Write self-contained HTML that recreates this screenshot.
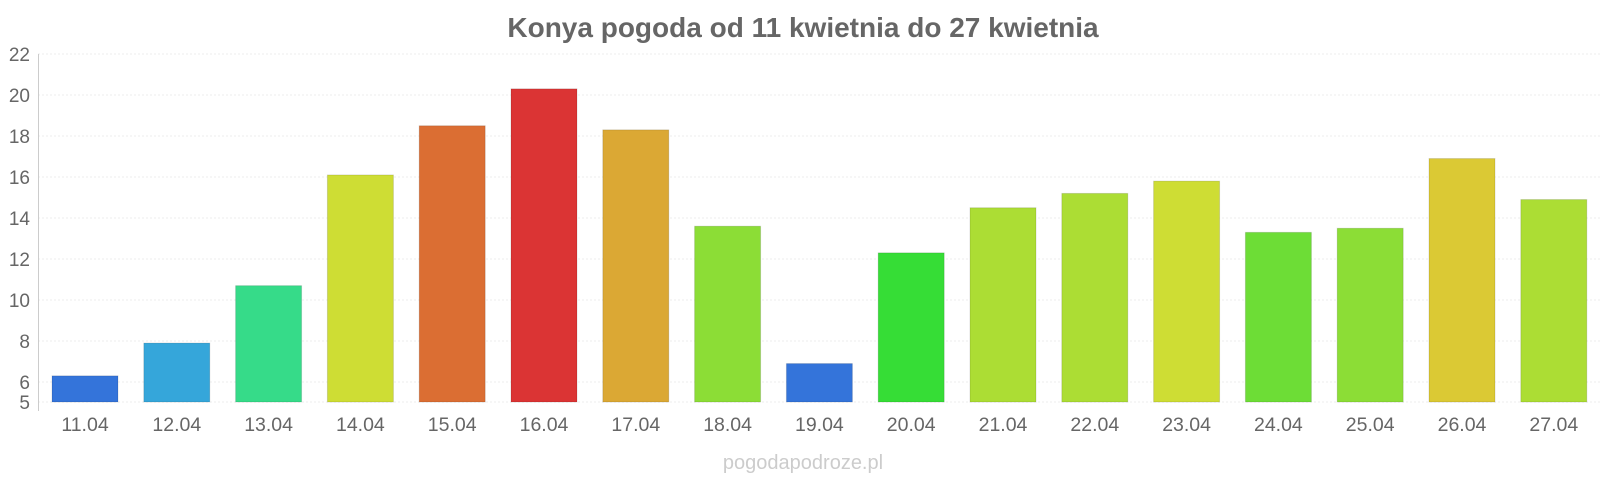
<!DOCTYPE html><html><head><meta charset="utf-8"><style>body{margin:0;background:#fff}svg{display:block}text{font-family:"Liberation Sans",sans-serif}</style></head><body>
<svg width="1600" height="480" xmlns="http://www.w3.org/2000/svg">
<text x="803" y="37" text-anchor="middle" font-size="28" font-weight="bold" fill="#666">Konya pogoda od 11 kwietnia do 27 kwietnia</text>
<g stroke="#eee" stroke-dasharray="2,2">
<line x1="38" x2="1600" y1="54" y2="54"/><line x1="38" x2="1600" y1="95" y2="95"/><line x1="38" x2="1600" y1="136" y2="136"/><line x1="38" x2="1600" y1="177" y2="177"/><line x1="38" x2="1600" y1="218" y2="218"/><line x1="38" x2="1600" y1="259" y2="259"/><line x1="38" x2="1600" y1="300" y2="300"/><line x1="38" x2="1600" y1="341" y2="341"/><line x1="38" x2="1600" y1="382" y2="382"/><line x1="38" x2="1600" y1="402" y2="402"/>
</g>
<line x1="38.5" x2="38.5" y1="54" y2="411" stroke="#ccc"/>
<g font-size="19" fill="#666" text-anchor="end">
<text x="30" y="61">22</text><text x="30" y="102">20</text><text x="30" y="143">18</text><text x="30" y="184">16</text><text x="30" y="225">14</text><text x="30" y="266">12</text><text x="30" y="307">10</text><text x="30" y="348">8</text><text x="30" y="389">6</text><text x="30" y="409">5</text>
</g>
<g stroke="rgba(0,0,0,0.12)">
<rect x="52" y="375.85" width="66" height="26.15" fill="#3474da"/>
<rect x="143.8" y="343.05" width="66" height="58.95" fill="#35a6da"/>
<rect x="235.6" y="285.65" width="66" height="116.35" fill="#36db89"/>
<rect x="327.4" y="174.95" width="66" height="227.05" fill="#cedd34"/>
<rect x="419.2" y="125.75" width="66" height="276.25" fill="#db6e33"/>
<rect x="511" y="88.85" width="66" height="313.15" fill="#db3434"/>
<rect x="602.8" y="129.85" width="66" height="272.15" fill="#dba834"/>
<rect x="694.6" y="226.2" width="66" height="175.8" fill="#8cdd36"/>
<rect x="786.4" y="363.55" width="66" height="38.45" fill="#3474da"/>
<rect x="878.2" y="252.85" width="66" height="149.15" fill="#36dd36"/>
<rect x="970" y="207.75" width="66" height="194.25" fill="#acdd34"/>
<rect x="1061.8" y="193.4" width="66" height="208.6" fill="#acdd34"/>
<rect x="1153.6" y="181.1" width="66" height="220.9" fill="#cedd34"/>
<rect x="1245.4" y="232.35" width="66" height="169.65" fill="#6ddd36"/>
<rect x="1337.2" y="228.25" width="66" height="173.75" fill="#8cdd36"/>
<rect x="1429" y="158.55" width="66" height="243.45" fill="#dbc934"/>
<rect x="1520.8" y="199.55" width="66" height="202.45" fill="#acdd34"/>
</g>
<g font-size="19.5" fill="#666" text-anchor="middle">
<text x="85" y="431">11.04</text><text x="176.8" y="431">12.04</text><text x="268.6" y="431">13.04</text><text x="360.4" y="431">14.04</text><text x="452.2" y="431">15.04</text><text x="544" y="431">16.04</text><text x="635.8" y="431">17.04</text><text x="727.6" y="431">18.04</text><text x="819.4" y="431">19.04</text><text x="911.2" y="431">20.04</text><text x="1003" y="431">21.04</text><text x="1094.8" y="431">22.04</text><text x="1186.6" y="431">23.04</text><text x="1278.4" y="431">24.04</text><text x="1370.2" y="431">25.04</text><text x="1462" y="431">26.04</text><text x="1553.8" y="431">27.04</text>
</g>
<text x="803" y="469" text-anchor="middle" font-size="20" fill="#ccc">pogodapodroze.pl</text>
</svg></body></html>
